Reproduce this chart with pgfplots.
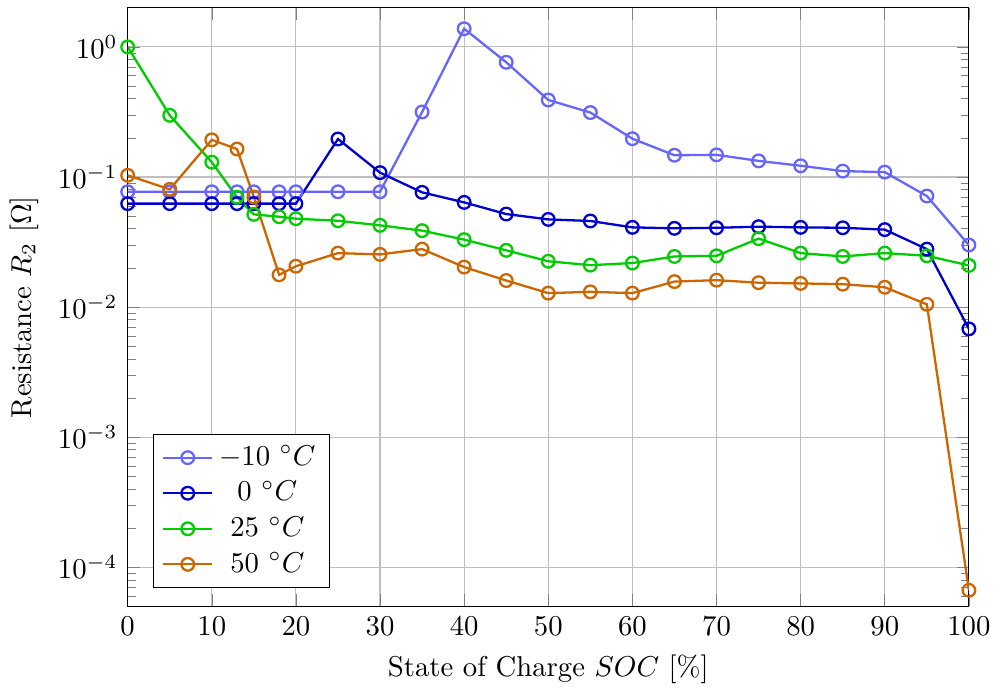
\documentclass[border=0pt]{standalone}
\usepackage{pgfplots}
\pgfplotsset{compat=1.18}
\begin{document}
\begin{tikzpicture}
\begin{axis}[
  scale only axis,
  width=293pt, height=208.5pt,
  ymode=log,
  xmin=0, xmax=100, ymin=5e-5, ymax=2,
  xtick={0,10,...,100},
  grid=major,
  xlabel={State of Charge $SOC$ [\%]},
  ylabel={Resistance $R_2$ [$\Omega$]},
  legend cell align=center,
  legend style={at={(0.03,0.03)}, anchor=south west},
  every axis plot/.append style={thick, mark=o, mark size=2.2pt},
]
\addplot[color=blue!60] coordinates {
(0,0.077)(5,0.077)(10,0.077)(13,0.077)(15,0.077)(18,0.077)(20,0.077)(25,0.077)(30,0.077)
(35,0.316)(40,1.38)(45,0.762)(50,0.391)(55,0.313)(60,0.197)(65,0.147)(70,0.148)
(75,0.133)(80,0.122)(85,0.111)(90,0.109)(95,0.0714)(100,0.030)};
\addlegendentry{$-10\ ^{\circ}C$}
\addplot[color=blue!80!black] coordinates {
(0,0.0624)(5,0.0624)(10,0.0624)(13,0.0624)(15,0.0624)(18,0.0624)(20,0.0624)(25,0.196)(30,0.108)
(35,0.0762)(40,0.0638)(45,0.0519)(50,0.0472)(55,0.0459)(60,0.041)(65,0.0403)(70,0.0407)
(75,0.0415)(80,0.041)(85,0.0407)(90,0.0394)(95,0.0279)(100,0.0068)};
\addlegendentry{$0\ ^{\circ}C$}
\addplot[color=green!80!black] coordinates {
(0,1.0)(5,0.298)(10,0.130)(13,0.0698)(15,0.0516)(18,0.0495)(20,0.0478)(25,0.0461)(30,0.0425)
(35,0.0387)(40,0.033)(45,0.0273)(50,0.0225)(55,0.021)(60,0.0218)(65,0.0245)(70,0.0248)
(75,0.0336)(80,0.026)(85,0.0245)(90,0.026)(95,0.0248)(100,0.0209)};
\addlegendentry{$25\ ^{\circ}C$}
\addplot[color=orange!80!black] coordinates {
(0,0.103)(5,0.0804)(10,0.193)(13,0.164)(15,0.0702)(18,0.0177)(20,0.0206)(25,0.026)(30,0.0254)
(35,0.0279)(40,0.0203)(45,0.016)(50,0.0128)(55,0.0131)(60,0.0128)(65,0.0157)(70,0.0161)
(75,0.0154)(80,0.0152)(85,0.015)(90,0.0142)(95,0.0105)(100,6.65e-5)};
\addlegendentry{$50\ ^{\circ}C$}
\end{axis}
\path (current bounding box.north) ++(0,2.5pt);
\end{tikzpicture}
\end{document}
